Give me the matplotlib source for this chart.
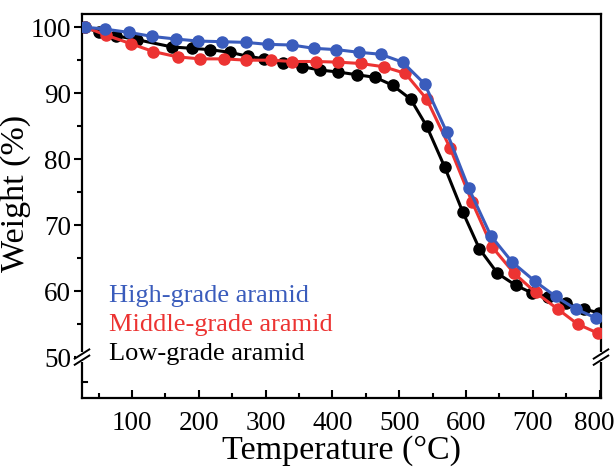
import numpy as np
import matplotlib.pyplot as plt
import matplotlib.transforms as mtransforms
from matplotlib.ticker import FixedLocator

plt.rcParams['font.family'] = ['Liberation Serif', 'DejaVu Serif']

# data
high_x = [30, 60, 96, 130, 166, 199, 235, 270, 303, 339, 372, 406, 439, 472, 505,
          538, 571, 604, 637, 669, 703, 734, 764, 795]
high_y = [100, 99.7, 99.2, 98.6, 98.2, 97.9, 97.8, 97.7, 97.4, 97.3, 96.8, 96.6, 96.2,
          95.9, 94.7, 91.4, 84.1, 75.6, 68.4, 64.4, 61.5, 59.2, 57.3, 55.9]

mid_x = [30, 61, 98, 132, 168, 202, 238, 271, 308, 340, 376, 409, 442, 477, 509,
         541, 576, 609, 639, 672, 704, 737, 767, 798]
mid_y = [100, 98.8, 97.5, 96.3, 95.5, 95.2, 95.2, 95.0, 95.0, 94.8, 94.8, 94.7, 94.5,
         94.0, 93.0, 89.1, 81.7, 73.5, 66.7, 62.7, 59.8, 57.3, 55.0, 53.6]

low_x = [30, 50, 76, 108, 160, 189, 216, 246, 273, 298, 326, 355, 382, 409, 436,
         464, 490, 517, 541, 568, 595, 620, 647, 674, 699, 723, 749, 776, 799]
low_y = [100, 99.2, 98.7, 98.1, 97.0, 96.8, 96.6, 96.2, 95.6, 95.2, 94.5, 94.0, 93.5,
         93.2, 92.8, 92.4, 91.2, 89.1, 85.0, 78.8, 72.0, 66.4, 62.7, 60.9, 59.7, 59.1,
         58.2, 57.3, 56.7]

labels = ['High-grade aramid', 'Middle-grade aramid', 'Low-grade aramid']
colors = ['#3a5cbc', '#ec3332', '#000000']

fig = plt.figure(figsize=(6.14, 4.67), dpi=100)
ax = fig.add_axes([82 / 614, 1 - 398 / 467, (601 - 82) / 614, (398 - 14) / 467])

# black first so the coloured curves sit on top
ax.plot(low_x, low_y, '-o', color=colors[2], lw=2.2, ms=8, zorder=3)
ax.plot(mid_x, mid_y, '-o', color=colors[1], lw=2.2, ms=8, zorder=4)
ax.plot(high_x, high_y, '-o', color=colors[0], lw=2.2, ms=8, zorder=5)

ax.set_xlim(25, 802)
ax.set_ylim(43.8, 102)

ax.xaxis.set_major_locator(FixedLocator([100, 200, 300, 400, 500, 600, 700, 800]))
ax.xaxis.set_minor_locator(FixedLocator([50, 150, 250, 350, 450, 550, 650, 750]))
ax.yaxis.set_major_locator(FixedLocator([50, 60, 70, 80, 90, 100]))
ax.yaxis.set_minor_locator(FixedLocator([55, 65, 75, 85, 95]))

ax.tick_params(axis='x', which='both', direction='in', top=False, labelsize=19.5, pad=9)
ax.tick_params(axis='x', which='major', length=6, width=1.5)
ax.tick_params(axis='x', which='minor', length=3.5, width=1.5)
ax.tick_params(axis='y', which='both', direction='out', right=False, labelsize=19.5, pad=2)
ax.tick_params(axis='y', which='major', length=6, width=1.5)
ax.tick_params(axis='y', which='minor', length=3.5, width=1.5)
for s in ax.spines.values():
    s.set_linewidth(1.6)

# nudge the last x label in a little, like the original
fig.canvas.draw()
last = ax.get_xticklabels()[-1]
last.set_transform(last.get_transform() + mtransforms.ScaledTranslation(-5 / 100, 0, fig.dpi_scale_trans))

ax.set_xlabel('Temperature (°C)', fontsize=24.5, labelpad=0)
ax.set_ylabel('Weight (%)', fontsize=24.5)
ax.yaxis.set_label_coords(-0.098, 0.534)

# small inward tick below the break
yt = ax.transLimits.transform((0, 46.2))[1]
ax.plot([0, 0.01], [yt, yt], transform=ax.transAxes, color='k', lw=1.5, clip_on=False)

# axis break marks at 50 on both side spines
yb = ax.transLimits.transform((0, 50))[1]
for xs in (0, 1):
    ax.add_patch(plt.Rectangle((xs - 0.012, yb - 0.012), 0.024, 0.024, transform=ax.transAxes,
                               facecolor='white', edgecolor='none', clip_on=False, zorder=6))
    for dy in (-0.008, 0.008):
        ax.plot([xs - 0.014, xs + 0.014], [yb + dy - 0.012, yb + dy + 0.012],
                transform=ax.transAxes, color='k', lw=1.4, clip_on=False, zorder=7)

# text legend
for i, (lab, c) in enumerate(zip(labels, colors)):
    ax.text(65, 59.3 - i * 4.4, lab, color=c, fontsize=19, va='center', ha='left')

fig.savefig('out.png', dpi=100)
